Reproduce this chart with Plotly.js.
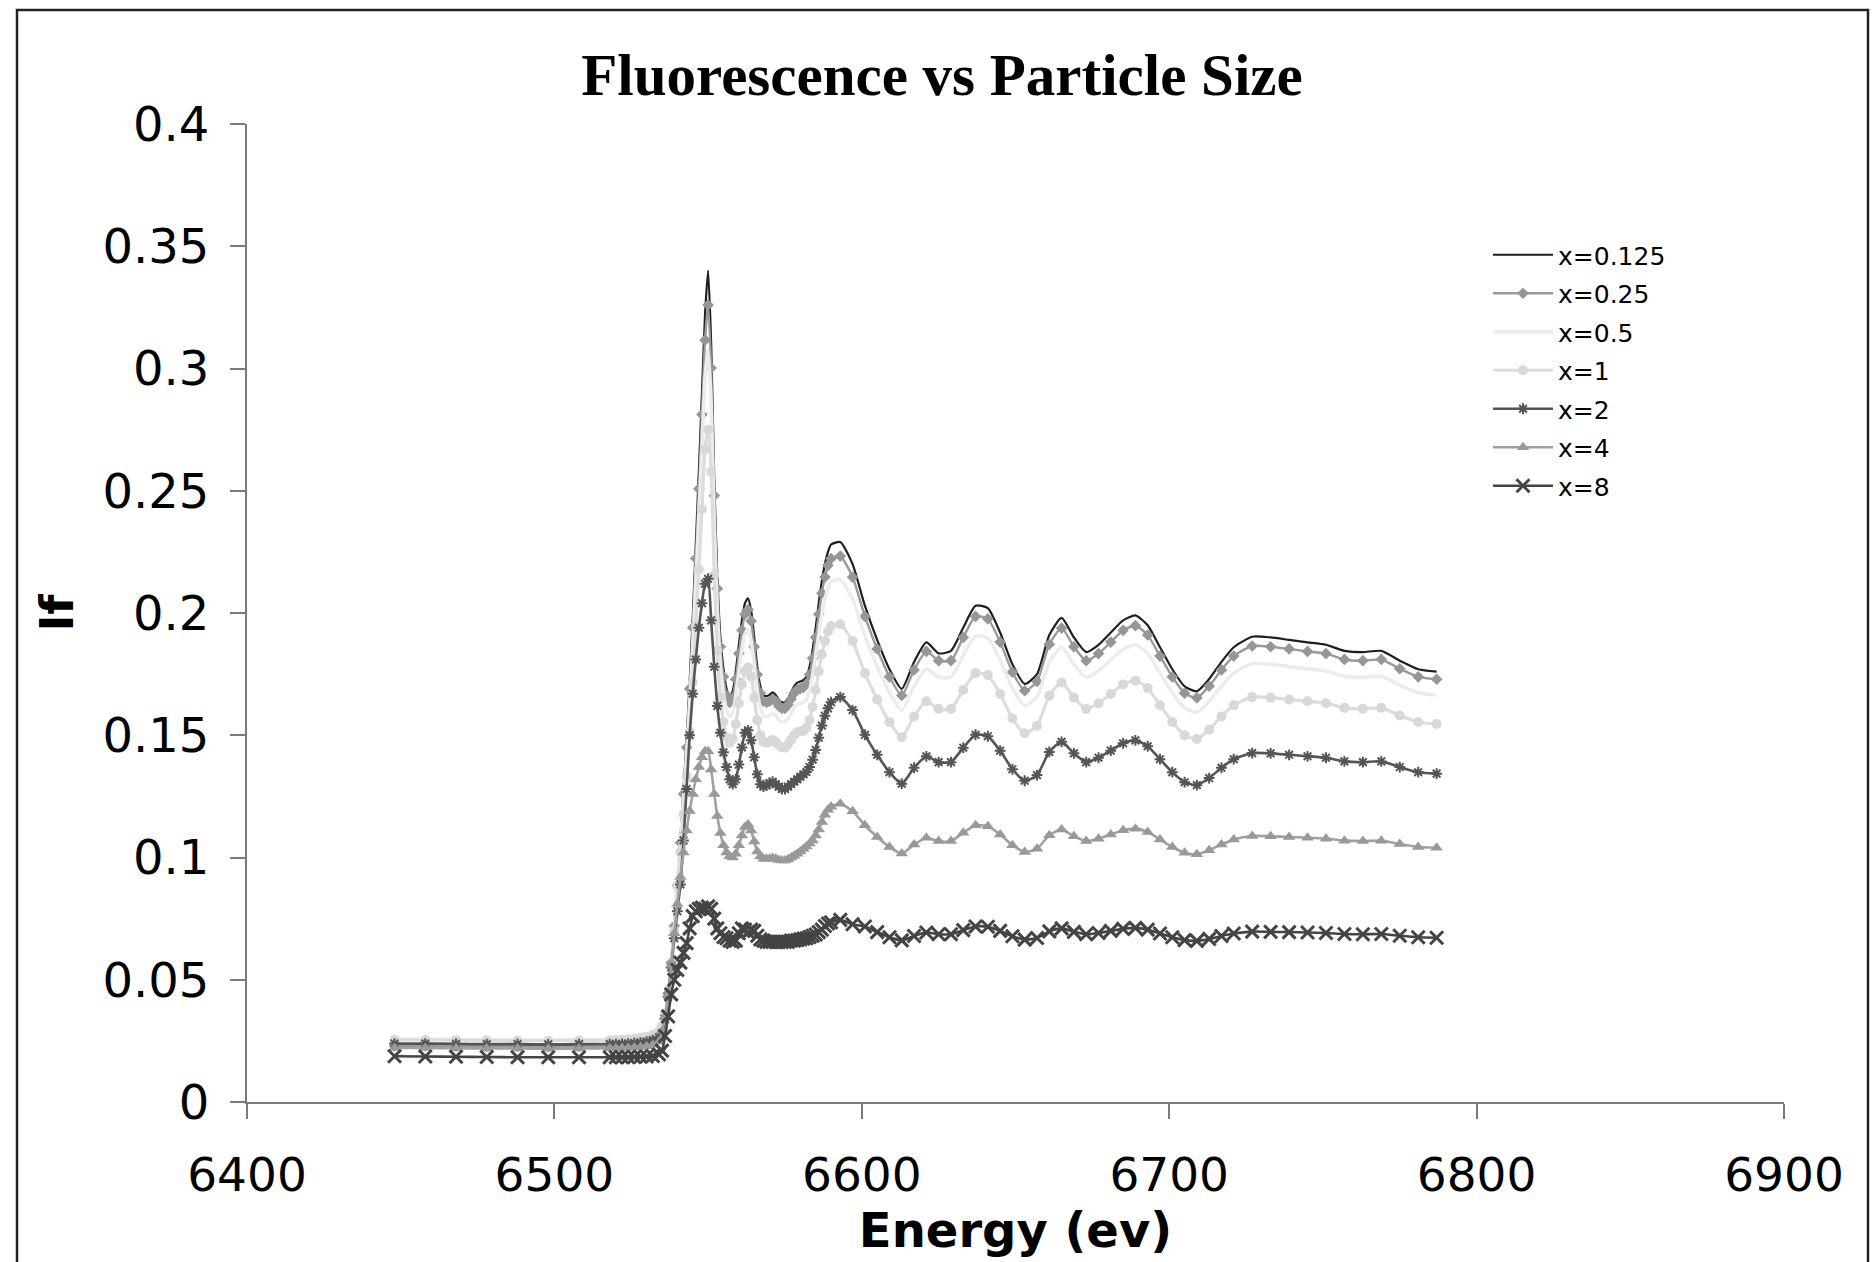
<!DOCTYPE html>
<html>
<head>
<meta charset="utf-8">
<script src="https://cdn.plot.ly/plotly-3.0.1.min.js"></script>
<style>
html,body{margin:0;padding:0;background:#fff;}
#chart{width:1875px;height:1262px;}
</style>
</head>
<body>
<div id="chart"></div>
<script>
// Energy grid (eV) shared by all series
const energy = [
  6448, 6458, 6468, 6478, 6488, 6498, 6508,
  6518, 6520, 6522, 6524, 6526, 6528, 6530, 6532, 6534,
  6535, 6536, 6537, 6538, 6539, 6540, 6541, 6542, 6543, 6544, 6545, 6546, 6547, 6548, 6549, 6550,
  6551, 6552, 6553, 6554, 6555, 6556, 6557, 6558, 6559, 6560, 6561, 6562, 6563, 6564, 6565, 6566,
  6567, 6568, 6569, 6570, 6571, 6572, 6573, 6574, 6575, 6576, 6577, 6578, 6579, 6580, 6581, 6582,
  6583, 6584, 6585, 6586, 6587, 6588, 6589, 6590,
  6593, 6597, 6601, 6605, 6609, 6613, 6617, 6621, 6625, 6629, 6633, 6637, 6641, 6645, 6649, 6653,
  6657, 6661, 6665, 6669, 6673, 6677, 6681, 6685, 6689, 6693, 6697, 6701, 6705, 6709, 6713, 6717, 6721,
  6727, 6733, 6739, 6745, 6751, 6757, 6763, 6769, 6775, 6781, 6787
];

const seriesNames = ["x=0.125", "x=0.25", "x=0.5", "x=1", "x=2", "x=4", "x=8"];

const if_0125 = [
  0.0236, 0.0236, 0.0235, 0.0234, 0.0234, 0.0233, 0.0234,
  0.0235, 0.0236, 0.0237, 0.0239, 0.0241, 0.0244, 0.0249, 0.0257, 0.0272,
  0.030, 0.036, 0.045, 0.058, 0.073, 0.090, 0.108, 0.128, 0.148, 0.172, 0.198, 0.228, 0.258, 0.290, 0.322, 0.340,
  0.310, 0.255, 0.215, 0.190, 0.177, 0.169, 0.166, 0.168, 0.176, 0.187, 0.197, 0.204, 0.206, 0.201, 0.190, 0.178,
  0.170, 0.1665, 0.166, 0.1665, 0.1675, 0.1665, 0.1645, 0.1635, 0.1635, 0.165, 0.1675, 0.170, 0.1715, 0.172, 0.1725, 0.174,
  0.178, 0.185, 0.194, 0.204, 0.213, 0.220, 0.225, 0.228,
  0.229, 0.220, 0.203, 0.189, 0.177, 0.169, 0.180, 0.188, 0.1835, 0.1845, 0.194, 0.203, 0.202, 0.192, 0.179, 0.171,
  0.175, 0.191, 0.198, 0.190, 0.184, 0.187, 0.192, 0.197, 0.199, 0.195, 0.186, 0.177, 0.170, 0.168, 0.173, 0.180, 0.186,
  0.1903, 0.190, 0.189, 0.188, 0.187, 0.1845, 0.184, 0.1845, 0.1805, 0.177, 0.176
];

const if_025 = [
  0.0229, 0.0229, 0.0228, 0.0227, 0.0227, 0.0226, 0.0227,
  0.0228, 0.0229, 0.0230, 0.0232, 0.0234, 0.0237, 0.0242, 0.0250, 0.0266,
  0.0295, 0.0355, 0.0445, 0.057, 0.072, 0.0885, 0.106, 0.126, 0.145, 0.169, 0.194, 0.2223, 0.2508, 0.2812, 0.3116, 0.326,
  0.3002, 0.248, 0.210, 0.1862, 0.1739, 0.1663, 0.1634, 0.1653, 0.1729, 0.1834, 0.1929, 0.1995, 0.2014, 0.1967, 0.1862, 0.1748,
  0.1672, 0.1639, 0.1634, 0.1639, 0.1648, 0.1639, 0.1620, 0.1610, 0.1610, 0.1625, 0.1648, 0.1672, 0.1687, 0.1691, 0.1696, 0.1710,
  0.1748, 0.1815, 0.1900, 0.1995, 0.2081, 0.2147, 0.2195, 0.2223,
  0.2233, 0.2147, 0.1986, 0.1853, 0.1739, 0.1663, 0.1767, 0.1843, 0.1805, 0.1805, 0.1900, 0.1986, 0.1976, 0.1881, 0.1758, 0.1682,
  0.1720, 0.1872, 0.1938, 0.1862, 0.1805, 0.1834, 0.1881, 0.1929, 0.1948, 0.1910, 0.1824, 0.1739, 0.1672, 0.1653, 0.1701, 0.1767, 0.1824,
  0.1865, 0.1862, 0.1853, 0.1843, 0.1834, 0.1810, 0.1805, 0.1810, 0.1772, 0.1739, 0.1729
];

const if_05 = [
  0.0257, 0.0257, 0.0256, 0.0255, 0.0254, 0.0254, 0.0255,
  0.0256, 0.0257, 0.0258, 0.0260, 0.0262, 0.0265, 0.0270, 0.0278, 0.0292,
  0.031, 0.036, 0.044, 0.056, 0.0705, 0.0900, 0.1060, 0.1238, 0.1416, 0.1630, 0.1861, 0.2128, 0.2395, 0.2680, 0.2965, 0.308,
  0.2858, 0.2369, 0.2013, 0.1790, 0.1674, 0.1603, 0.1576, 0.1594, 0.1665, 0.1763, 0.1852, 0.1915, 0.1932, 0.1888, 0.1790, 0.1683,
  0.1612, 0.1581, 0.1576, 0.1581, 0.1590, 0.1581, 0.1563, 0.1554, 0.1554, 0.1568, 0.1590, 0.1612, 0.1625, 0.1630, 0.1634, 0.1648,
  0.1683, 0.1746, 0.1826, 0.1915, 0.1995, 0.2057, 0.2102, 0.2128,
  0.2137, 0.2057, 0.1906, 0.1781, 0.1674, 0.1603, 0.1701, 0.1772, 0.1737, 0.1737, 0.1826, 0.1906, 0.1897, 0.1808, 0.1692, 0.1621,
  0.1657, 0.1799, 0.1861, 0.1790, 0.1737, 0.1763, 0.1808, 0.1852, 0.1870, 0.1835, 0.1754, 0.1674, 0.1612, 0.1594, 0.1639, 0.1701, 0.1754,
  0.1793, 0.1790, 0.1781, 0.1772, 0.1763, 0.1741, 0.1737, 0.1741, 0.1705, 0.1674, 0.1665
];

const if_1 = [
  0.0254, 0.0254, 0.0253, 0.0252, 0.0251, 0.0251, 0.0252,
  0.0253, 0.0254, 0.0255, 0.0257, 0.0259, 0.0262, 0.0267, 0.0275, 0.0290,
  0.031, 0.036, 0.043, 0.055, 0.070, 0.0884, 0.1023, 0.1177, 0.1331, 0.1515, 0.1716, 0.1947, 0.2178, 0.2424, 0.2670, 0.275,
  0.2578, 0.2155, 0.1847, 0.1654, 0.1554, 0.1492, 0.1469, 0.1485, 0.1546, 0.1631, 0.1708, 0.1762, 0.1777, 0.1739, 0.1654, 0.1562,
  0.1500, 0.1473, 0.1469, 0.1473, 0.1481, 0.1473, 0.1458, 0.1450, 0.1450, 0.1462, 0.1481, 0.1500, 0.1512, 0.1515, 0.1519, 0.1531,
  0.1562, 0.1616, 0.1685, 0.1762, 0.1831, 0.1885, 0.1924, 0.1947,
  0.1954, 0.1885, 0.1754, 0.1646, 0.1554, 0.1492, 0.1577, 0.1639, 0.1608, 0.1608, 0.1685, 0.1754, 0.1746, 0.1669, 0.1569, 0.1508,
  0.1539, 0.1662, 0.1716, 0.1654, 0.1608, 0.1631, 0.1669, 0.1708, 0.1723, 0.1693, 0.1623, 0.1554, 0.1500, 0.1485, 0.1523, 0.1577, 0.1623,
  0.1656, 0.1654, 0.1646, 0.1639, 0.1631, 0.1612, 0.1608, 0.1612, 0.1581, 0.1554, 0.1546
];

const if_2 = [
  0.0239, 0.0239, 0.0238, 0.0237, 0.0237, 0.0236, 0.0237,
  0.0237, 0.0237, 0.0238, 0.0239, 0.0241, 0.0243, 0.0247, 0.0253, 0.0265,
  0.028, 0.034, 0.043, 0.055, 0.067, 0.078, 0.089, 0.107, 0.128, 0.150, 0.167, 0.181, 0.194, 0.204, 0.212, 0.214,
  0.197, 0.178, 0.162, 0.151, 0.143, 0.137, 0.132, 0.130, 0.132, 0.138, 0.145, 0.151, 0.152, 0.148, 0.141, 0.134,
  0.130, 0.129, 0.1295, 0.1305, 0.131, 0.130, 0.129, 0.128, 0.128, 0.129, 0.130, 0.131, 0.132, 0.133, 0.134, 0.135,
  0.137, 0.140, 0.144, 0.149, 0.154, 0.158, 0.161, 0.1635,
  0.1656, 0.1603, 0.1502, 0.1420, 0.1349, 0.1302, 0.1367, 0.1414, 0.1390, 0.1390, 0.1449, 0.1502, 0.1496, 0.1437, 0.1361, 0.1314,
  0.1337, 0.1432, 0.1473, 0.1426, 0.1390, 0.1408, 0.1437, 0.1467, 0.1479, 0.1455, 0.1402, 0.1349, 0.1308, 0.1296, 0.1325, 0.1367, 0.1402,
  0.1427, 0.1426, 0.1420, 0.1414, 0.1408, 0.1393, 0.1390, 0.1393, 0.1370, 0.1349, 0.1343
];

const if_4 = [
  0.0221, 0.0221, 0.0220, 0.0219, 0.0219, 0.0218, 0.0219,
  0.0220, 0.0220, 0.0221, 0.0222, 0.0223, 0.0225, 0.0228, 0.0234, 0.0246,
  0.029, 0.035, 0.044, 0.056, 0.069, 0.081, 0.092, 0.102, 0.111, 0.119, 0.126, 0.132, 0.137, 0.141, 0.1435, 0.1435,
  0.136, 0.126, 0.117, 0.110, 0.105, 0.102, 0.1005, 0.100, 0.1015, 0.105, 0.109, 0.1125, 0.1135, 0.111, 0.1065, 0.1025,
  0.1005, 0.0995, 0.0995, 0.0995, 0.0998, 0.0995, 0.099, 0.0988, 0.0988, 0.0993, 0.100, 0.1007, 0.1015, 0.1025, 0.1035, 0.1045,
  0.1057, 0.107, 0.109, 0.1115, 0.1145, 0.1175, 0.1195, 0.1208,
  0.1220, 0.1189, 0.1132, 0.1084, 0.1043, 0.1016, 0.1053, 0.1081, 0.1067, 0.1067, 0.1101, 0.1132, 0.1128, 0.1094, 0.1050, 0.1023,
  0.1036, 0.1091, 0.1115, 0.1087, 0.1067, 0.1077, 0.1094, 0.1111, 0.1118, 0.1104, 0.1074, 0.1043, 0.1019, 0.1013, 0.1030, 0.1053, 0.1074,
  0.1088, 0.1087, 0.1084, 0.1081, 0.1077, 0.1069, 0.1067, 0.1069, 0.1055, 0.1043, 0.1040
];

const if_8 = [
  0.0187, 0.0186, 0.0185, 0.0184, 0.0183, 0.0183, 0.0183,
  0.0183, 0.0183, 0.0183, 0.0183, 0.0184, 0.0185, 0.0186, 0.0188, 0.0195,
  0.021, 0.027, 0.035, 0.044, 0.050, 0.054, 0.057, 0.061, 0.065, 0.071, 0.076, 0.078, 0.079, 0.0795, 0.079, 0.080,
  0.079, 0.075, 0.071, 0.069, 0.0675, 0.067, 0.066, 0.0655, 0.066, 0.069, 0.071, 0.0705, 0.0695, 0.0705, 0.070, 0.068,
  0.0665, 0.066, 0.0655, 0.0655, 0.0655, 0.0655, 0.0655, 0.0655, 0.0655, 0.0655, 0.066, 0.066, 0.0662, 0.0665, 0.0668, 0.067,
  0.0675, 0.068, 0.0685, 0.0695, 0.0705, 0.072, 0.073, 0.0735,
  0.0745, 0.0727, 0.0718, 0.0695, 0.0674, 0.0661, 0.0679, 0.0693, 0.0686, 0.0686, 0.0703, 0.0718, 0.0717, 0.0700, 0.0678, 0.0664,
  0.0671, 0.0698, 0.0710, 0.0696, 0.0686, 0.0691, 0.0700, 0.0708, 0.0712, 0.0705, 0.0689, 0.0674, 0.0662, 0.0659, 0.0667, 0.0679, 0.0689,
  0.0697, 0.0696, 0.0695, 0.0693, 0.0691, 0.0687, 0.0686, 0.0687, 0.0680, 0.0674, 0.0672
];

const xTicks = [6400, 6500, 6600, 6700, 6800, 6900];
const yTicks = [0, 0.05, 0.1, 0.15, 0.2, 0.25, 0.3, 0.35, 0.4];

const seriesValues = [if_0125, if_025, if_05, if_1, if_2, if_4, if_8];
const styles = [
  {mode: "lines", line: {color: "#1e1e1e", width: 2.2}},
  {mode: "lines+markers", line: {color: "#9a9a9a", width: 2.4}, marker: {symbol: "diamond", size: 9, color: "#969696"}},
  {mode: "lines", line: {color: "#ececec", width: 3.5}},
  {mode: "lines+markers", line: {color: "#dcdcdc", width: 3.2}, marker: {symbol: "circle", size: 10, color: "#d8d8d8"}},
  {mode: "lines+markers", line: {color: "#555555", width: 2.6}, marker: {symbol: "asterisk-open", size: 9, color: "#555555", line: {width: 2, color: "#555555"}}},
  {mode: "lines+markers", line: {color: "#a0a0a0", width: 2.6}, marker: {symbol: "triangle-up", size: 11, color: "#999999"}},
  {mode: "lines+markers", line: {color: "#444444", width: 2.6}, marker: {symbol: "x-thin-open", size: 13, color: "#444444", line: {width: 3, color: "#444444"}}}
];

const traces = seriesNames.map((name, i) => {
  const st = styles[i];
  const t = {
    type: "scatter",
    x: energy,
    y: seriesValues[i],
    name: name,
    legendgroup: "g" + i,
    mode: st.mode,
    line: Object.assign({shape: "spline", smoothing: 0.6}, st.line)
  };
  if (st.marker) t.marker = st.marker;
  return t;
});

const W = 1875, H = 1262;
const L = 247, R = 91, T = 124, B = 160;
const pw = W - L - R, ph = H - T - B;
function px2paperX(p) { return (p - L) / pw; }
function py2paperY(p) { return (H - B - p) / ph; }

const layout = {
  width: W, height: H,
  margin: {l: L, r: R, t: T, b: B, pad: 0},
  paper_bgcolor: "#ffffff",
  plot_bgcolor: "#ffffff",
  showlegend: true,
  title: {
    text: "<b>Fluorescence vs Particle Size</b>",
    font: {family: "Liberation Serif, Times New Roman, serif", size: 59, color: "#000"},
    x: 942 / W, xanchor: "center",
    y: 1 - 74 / H, yanchor: "middle"
  },
  xaxis: {
    range: [6400, 6900],
    tickvals: xTicks,
    ticktext: xTicks.map(String),
    ticks: "outside", ticklen: 15, tickwidth: 2, tickcolor: "#7a7a7a",
    showline: true, linecolor: "#7a7a7a", linewidth: 2,
    showgrid: false, zeroline: false,
    tickfont: {family: "DejaVu Sans, Verdana, sans-serif", size: 47, color: "#000"},
    ticklabelstandoff: 16,
    title: {text: "<b>Energy (ev)</b>", font: {family: "DejaVu Sans, Verdana, sans-serif", size: 48, color: "#000"}, standoff: 6}
  },
  yaxis: {
    range: [0, 0.4],
    tickvals: yTicks,
    ticktext: yTicks.map(String),
    ticks: "outside", ticklen: 15, tickwidth: 2, tickcolor: "#7a7a7a",
    showline: true, linecolor: "#7a7a7a", linewidth: 2,
    showgrid: false, zeroline: false,
    tickfont: {family: "DejaVu Sans, Verdana, sans-serif", size: 48, color: "#000"},
    ticklabelstandoff: 11,
    title: {text: "<b>If</b>", font: {family: "DejaVu Sans, Verdana, sans-serif", size: 46, color: "#000"}, standoff: 14}
  },
  legend: {
    x: px2paperX(1488), y: py2paperY(232), xanchor: "left", yanchor: "top",
    bgcolor: "rgba(0,0,0,0)", borderwidth: 0,
    font: {family: "DejaVu Sans, Verdana, sans-serif", size: 25, color: "#000"},
    itemwidth: 60, tracegroupgap: 3
  },
  shapes: [{
    type: "rect", xref: "paper", yref: "paper",
    x0: px2paperX(17), x1: px2paperX(1868),
    y0: py2paperY(1290), y1: py2paperY(10),
    line: {color: "#222", width: 2.5}, fillcolor: "rgba(0,0,0,0)", layer: "below"
  }]
};

Plotly.newPlot("chart", traces, layout, {displayModeBar: false, staticPlot: true});
</script>
</body>
</html>
